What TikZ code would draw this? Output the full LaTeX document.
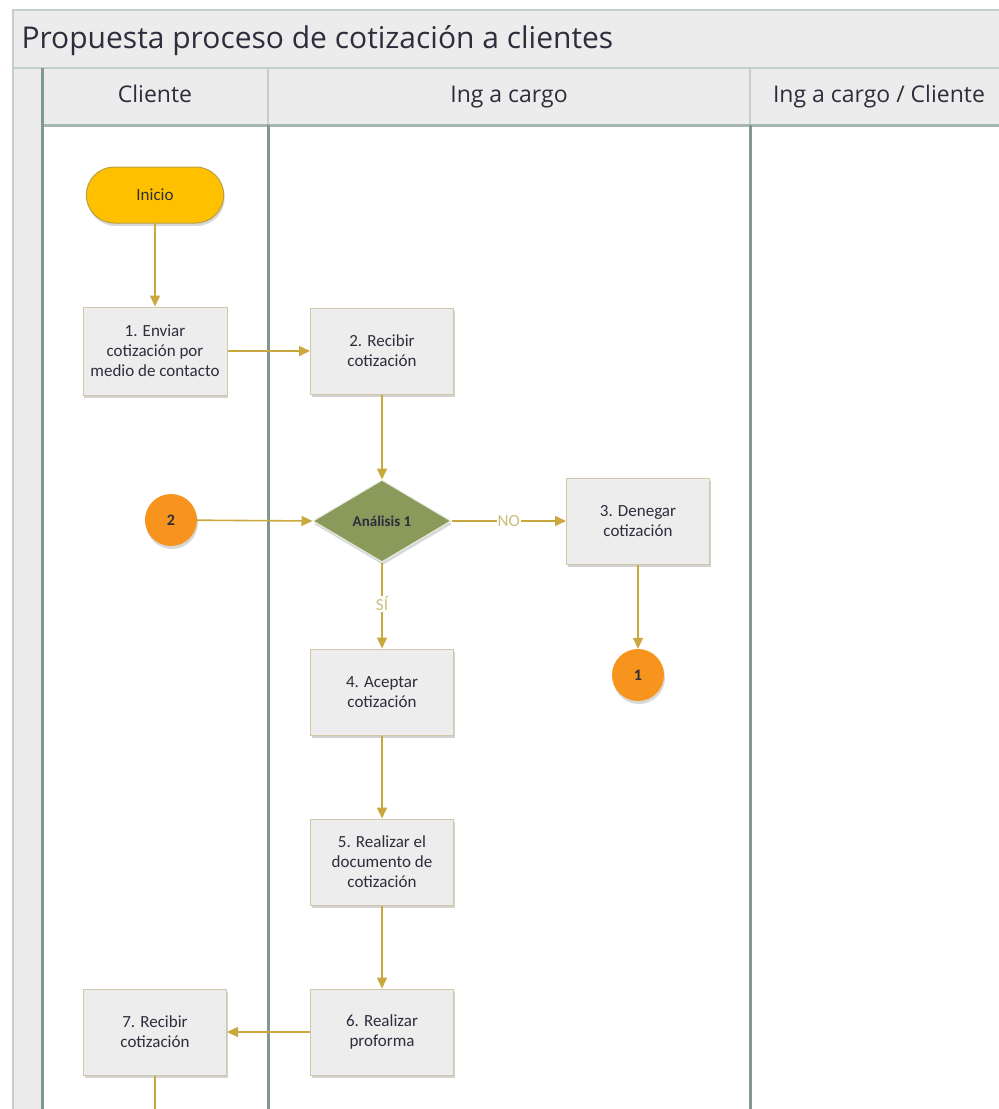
\documentclass[tikz,border=0pt]{standalone}
\usepackage{fontspec}
\setmainfont{Carlito}
\newfontfamily\hdfont{Open Sans}
\usetikzlibrary{arrows.meta,shadows,shapes.geometric,shapes.misc}
\definecolor{gold}{RGB}{201,168,62}
\definecolor{goldlbl}{RGB}{205,190,120}
\definecolor{boxfill}{RGB}{237,237,237}
\definecolor{boxline}{RGB}{208,200,168}
\definecolor{txt}{RGB}{45,45,60}
\definecolor{lane}{RGB}{128,152,144}
\definecolor{lanelight}{RGB}{196,206,202}
\definecolor{headbg}{RGB}{236,236,236}
\definecolor{inicio}{RGB}{255,192,0}
\definecolor{inicioline}{RGB}{184,160,64}
\definecolor{orangec}{RGB}{247,148,29}
\definecolor{olive}{RGB}{138,154,91}
\tikzset{
  stepbox/.style={rectangle, minimum width=143, minimum height=86, align=center,
    font=\fontsize{17}{20}\selectfont, text=txt, fill=boxfill, draw=boxline, line width=1pt,
    drop shadow={shadow xshift=1pt, shadow yshift=-3pt, opacity=0.35, fill=gray}},
  startnode/.style={rounded rectangle, minimum width=144, minimum height=56,
    font=\fontsize{17}{20}\selectfont, text=txt, fill=inicio, draw=inicioline, line width=1pt,
    drop shadow={shadow xshift=1pt, shadow yshift=-3pt, opacity=0.3, fill=gray}},
  conn/.style={circle, minimum size=52, inner sep=0pt, font=\fontsize{16}{18}\selectfont\bfseries,
    text=txt, fill=orangec, draw=none,
    drop shadow={shadow xshift=1pt, shadow yshift=-3pt, opacity=0.3, fill=gray}},
  decision/.style={diamond, minimum width=138, minimum height=82, inner sep=0pt, aspect=1.7,
    font=\fontsize{15}{20}\selectfont\bfseries, text=txt, fill=olive, draw=white!80!olive, line width=1pt,
    drop shadow={shadow xshift=1pt, shadow yshift=-3pt, opacity=0.3, fill=gray}},
  flow/.style={draw=gold, line width=1.6pt, -{Triangle[length=11pt,width=10pt]}},
  lbl/.style={font=\fontsize{17}{18}\selectfont, text=goldlbl, fill=white, inner sep=1pt},
  lanehd/.style={font=\hdfont\fontsize{23}{26}\selectfont, text=txt, anchor=base},
}
\begin{document}
\begin{tikzpicture}[x=1pt,y=-1pt]
\useasboundingbox (0,0) rectangle (999,1109);
\clip (0,0) rectangle (999,1109);
\fill[white] (0,0) rectangle (999,1109);
% pool frame
\fill[headbg] (13,10) rectangle (1015,68);
\fill[headbg] (13,68) rectangle (42,1120);
\fill[headbg] (42,68) rectangle (1015,125);
\draw[lanelight, line width=2pt] (13,1120) -- (13,10) -- (1015,10);
\draw[lanelight, line width=2pt] (13,68) -- (1015,68);
\draw[lanelight, line width=1.5pt] (268,68) -- (268,125);
\draw[lanelight, line width=1.5pt] (750,68) -- (750,125);
\draw[lane!70!white, line width=3pt] (42,125) -- (1015,125);
\draw[lane, line width=3pt] (42,68) -- (42,1120);
\draw[lane, line width=3pt] (268,125) -- (268,1120);
\draw[lane, line width=3pt] (750,125) -- (750,1120);
\node[anchor=base west, font=\hdfont\fontsize{30}{34}\selectfont, text=txt] (title) at (18,48) {Propuesta proceso de cotización a clientes};
\node[lanehd] (h1) at (155,102) {Cliente};
\node[lanehd] (h2) at (509,102) {Ing a cargo};
\node[lanehd] (h3) at (879,102) {Ing a cargo / Cliente};
% nodes
\node[startnode] (ini) at (155,195) {Inicio};
\node[stepbox, minimum width=144, minimum height=88] (b1) at (155,351) {1. Enviar\\cotización por\\medio de contacto};
\node[stepbox] (b2) at (382,351) {2. Recibir\\cotización};
\node[decision] (d1) at (382,521) {Análisis 1};
\node[conn] (c2) at (171,520) {2};
\node[stepbox] (b3) at (638,521) {3. Denegar\\cotización};
\node[conn] (c1) at (638,675) {1};
\node[stepbox] (b4) at (382,692) {4. Aceptar\\cotización};
\node[stepbox] (b5) at (382,862) {5. Realizar el\\documento de\\cotización};
\node[stepbox] (b6) at (382,1032) {6. Realizar\\proforma};
\node[stepbox] (b7) at (155,1032) {7. Recibir\\cotización};
\coordinate (out7) at (155,1115);
% connectors
\draw[flow] (ini) -- (b1);
\draw[flow] (b1) -- (b2);
\draw[flow] (b2) -- (d1);
\draw[flow] (c2) -- (d1.west);
\draw[flow] (d1.east) -- node[lbl] {NO} (b3);
\draw[flow] (d1.south) -- node[lbl, pos=0.48] {SÍ} (b4);
\draw[flow] (b3) -- (c1);
\draw[flow] (b4) -- (b5);
\draw[flow] (b5) -- (b6);
\draw[flow] (b6) -- (b7);
\draw[draw=gold, line width=1.6pt] (b7) -- (out7);
\end{tikzpicture}
\end{document}
